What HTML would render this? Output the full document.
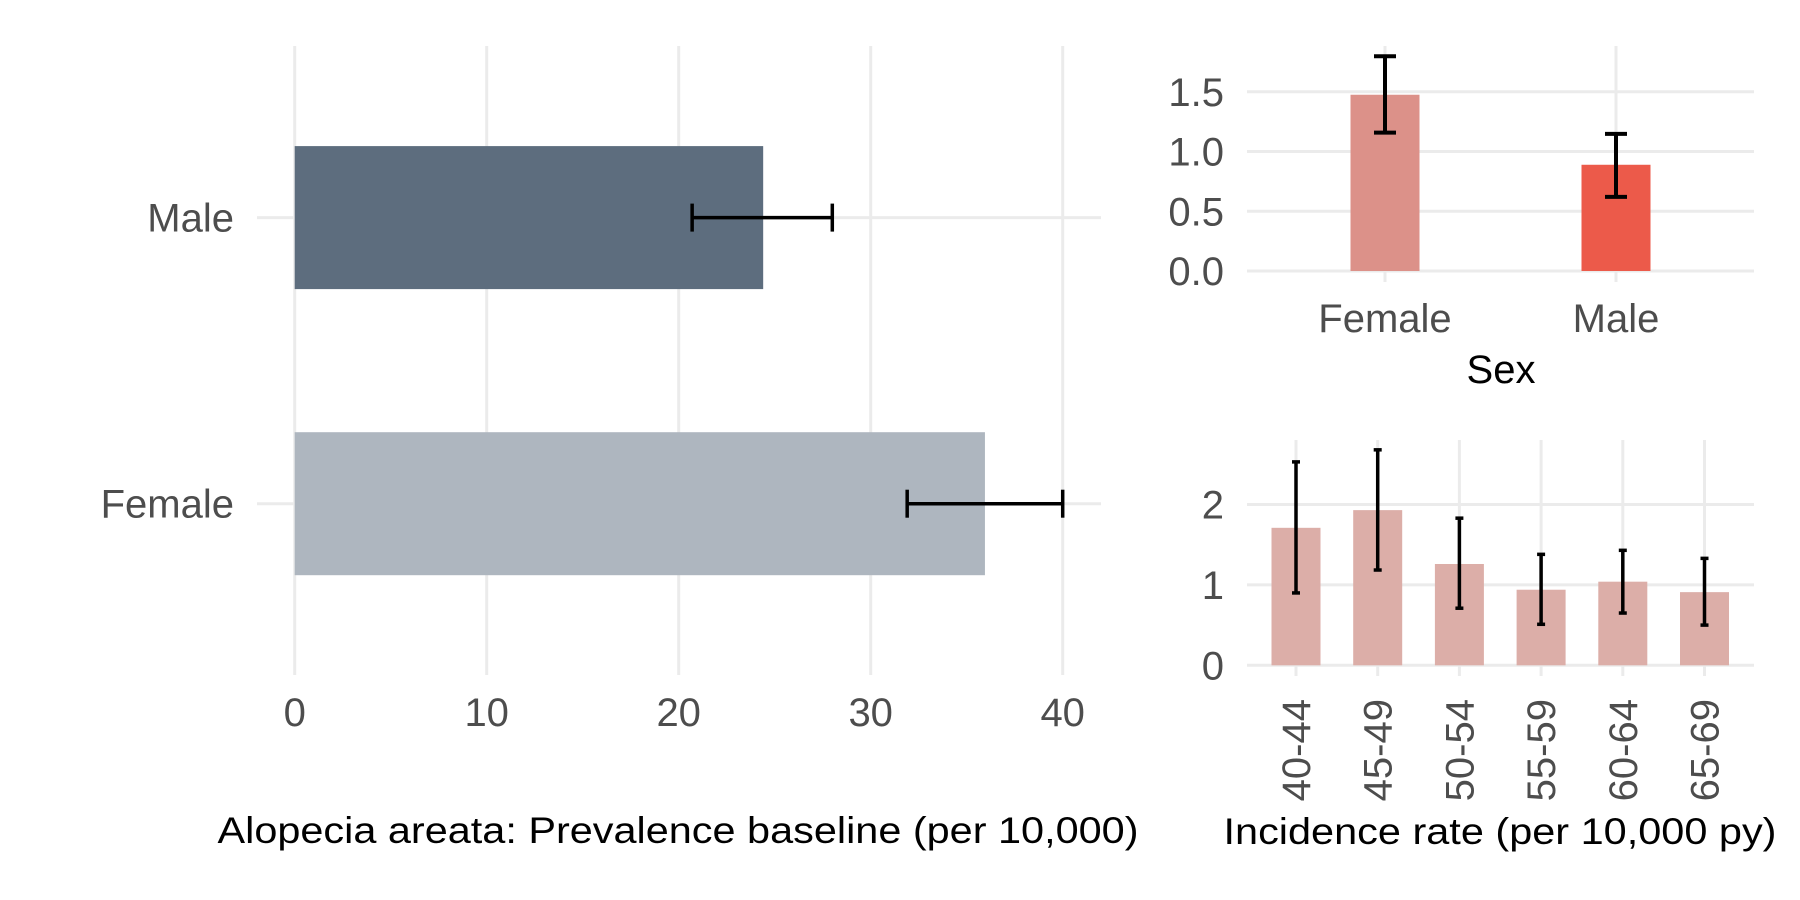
<!DOCTYPE html>
<html><head><meta charset="utf-8"><style>
html,body{margin:0;padding:0;background:#fff}
svg{display:block;font-family:"Liberation Sans",Arial,sans-serif}
</style></head><body>
<svg id="chart" width="1800" height="900" viewBox="0 0 1800 900"></svg>
<script>
// Left panel: prevalence
const prevCats = ["Male","Female"];
const prevVals = [24.4, 35.95];
const prevLo = [20.7, 31.9];
const prevHi = [28.0, 40.0];
const prevTicks = [0,10,20,30,40];
// Top-right: incidence by sex
const sexCats = ["Female","Male"];
const sexVals = [1.475, 0.889];
const sexLo = [1.158, 0.62];
const sexHi = [1.797, 1.148];
const sexTicks = [0,0.5,1.0,1.5];
const sexTickLabels = ["0.0","0.5","1.0","1.5"];
// Bottom-right: incidence by age
const ageCats = ["40-44","45-49","50-54","55-59","60-64","65-69"];
const ageVals = [1.71, 1.93, 1.26, 0.94, 1.04, 0.91];
const ageLo = [0.90, 1.185, 0.71, 0.51, 0.65, 0.50];
const ageHi = [2.53, 2.68, 1.83, 1.38, 1.43, 1.33];
const ageTicks = [0,1,2];

const svg = document.getElementById('chart');
const NS = 'http://www.w3.org/2000/svg';
function mk(tag, attrs, name, parent){
  const el = document.createElementNS(NS, tag);
  for (const k in attrs) el.setAttribute(k, attrs[k]);
  
  
  (parent||svg).appendChild(el);
  return el;
}
function txt(x,y,s,size,fill,anchor,name,extra){
  const t = mk('text', Object.assign({x:x,y:y,'font-size':size,fill:fill,'text-anchor':anchor}, extra||{}), name);
  t.textContent = s;
  return t;
}
const GRID = '#ebebeb', TICKC = '#4d4d4d';

// ---------- Left panel ----------
const lx = v => 294.7 + v*19.2;
const lyC = [217.6, 503.7];
const lBand = 143;
prevTicks.forEach(t => {
  mk('line',{x1:lx(t),x2:lx(t),y1:46,y2:675,stroke:GRID,'stroke-width':3},'x-gridline');
  txt(lx(t),726,String(t),40,TICKC,'middle','x-tick-label');
});
prevCats.forEach((c,i)=>{
  mk('line',{x1:257,x2:1101,y1:lyC[i],y2:lyC[i],stroke:GRID,'stroke-width':3},'y-gridline');
  txt(234,lyC[i]+14,c,40,TICKC,'end','y-tick-label');
});
const prevColors = ['#5d6d7e','#aeb6bf'];
prevCats.forEach((c,i)=>{
  mk('rect',{x:lx(0),y:lyC[i]-lBand/2,width:lx(prevVals[i])-lx(0),height:lBand,fill:prevColors[i]},'bar-prevalence-'+c.toLowerCase());
  mk('line',{x1:lx(prevLo[i]),x2:lx(prevHi[i]),y1:lyC[i],y2:lyC[i],stroke:'#000','stroke-width':3.5},'error-bar');
  mk('line',{x1:lx(prevLo[i]),x2:lx(prevLo[i]),y1:lyC[i]-14,y2:lyC[i]+14,stroke:'#000','stroke-width':3.5},'error-cap');
  mk('line',{x1:lx(prevHi[i]),x2:lx(prevHi[i]),y1:lyC[i]-14,y2:lyC[i]+14,stroke:'#000','stroke-width':3.5},'error-cap');
});
txt(678,843,'Alopecia areata: Prevalence baseline (per 10,000)',37,'#000','middle','x-axis-title-prevalence',{textLength:921,lengthAdjust:'spacingAndGlyphs'});

// ---------- Top-right ----------
const sy = v => 271 - v*119.5;
const sxC = [1385, 1616];
sexTicks.forEach((t,i)=>{
  mk('line',{x1:1247,x2:1754,y1:sy(t),y2:sy(t),stroke:GRID,'stroke-width':3},'y-gridline');
  txt(1224,sy(t)+14,sexTickLabels[i],40,TICKC,'end','y-tick-label');
});
sexCats.forEach((c,i)=>{
  mk('line',{x1:sxC[i],x2:sxC[i],y1:46,y2:282,stroke:GRID,'stroke-width':3},'x-gridline');
  txt(sxC[i],332,c,40,TICKC,'middle','x-tick-label');
});
const sexColors = ['#dc9189','#ec5a4a'];
sexCats.forEach((c,i)=>{
  mk('rect',{x:sxC[i]-34.5,y:sy(sexVals[i]),width:69,height:sy(0)-sy(sexVals[i]),fill:sexColors[i]},'bar-incidence-'+c.toLowerCase());
  mk('line',{x1:sxC[i],x2:sxC[i],y1:sy(sexLo[i]),y2:sy(sexHi[i]),stroke:'#000','stroke-width':4},'error-bar');
  mk('line',{x1:sxC[i]-11,x2:sxC[i]+11,y1:sy(sexLo[i]),y2:sy(sexLo[i]),stroke:'#000','stroke-width':4},'error-cap');
  mk('line',{x1:sxC[i]-11,x2:sxC[i]+11,y1:sy(sexHi[i]),y2:sy(sexHi[i]),stroke:'#000','stroke-width':4},'error-cap');
});
txt(1501,383,'Sex',40,'#000','middle','x-axis-title-sex');

// ---------- Bottom-right ----------
const ay = v => 665.3 - v*80.4;
const ax = i => 1296 + i*81.7;
ageTicks.forEach(t=>{
  mk('line',{x1:1247,x2:1754,y1:ay(t),y2:ay(t),stroke:GRID,'stroke-width':3},'y-gridline');
  txt(1224,ay(t)+14,String(t),40,TICKC,'end','y-tick-label');
});
ageCats.forEach((c,i)=>{
  mk('line',{x1:ax(i),x2:ax(i),y1:440,y2:676,stroke:GRID,'stroke-width':3},'x-gridline');
  txt(0,0,c,40,TICKC,'end','x-tick-label',{transform:'translate('+(ax(i)+14)+',699) rotate(-90)'});
});
ageCats.forEach((c,i)=>{
  mk('rect',{x:ax(i)-24.5,y:ay(ageVals[i]),width:49,height:ay(0)-ay(ageVals[i]),fill:'#dcaea8'},'bar-age-'+c);
  mk('line',{x1:ax(i),x2:ax(i),y1:ay(ageLo[i]),y2:ay(ageHi[i]),stroke:'#000','stroke-width':3.5},'error-bar');
  mk('line',{x1:ax(i)-4,x2:ax(i)+4,y1:ay(ageLo[i]),y2:ay(ageLo[i]),stroke:'#000','stroke-width':3.5},'error-cap');
  mk('line',{x1:ax(i)-4,x2:ax(i)+4,y1:ay(ageHi[i]),y2:ay(ageHi[i]),stroke:'#000','stroke-width':3.5},'error-cap');
});
txt(1500,844,'Incidence rate (per 10,000 py)',37,'#000','middle','x-axis-title-incidence',{textLength:553,lengthAdjust:'spacingAndGlyphs'});
</script>
</body></html>
